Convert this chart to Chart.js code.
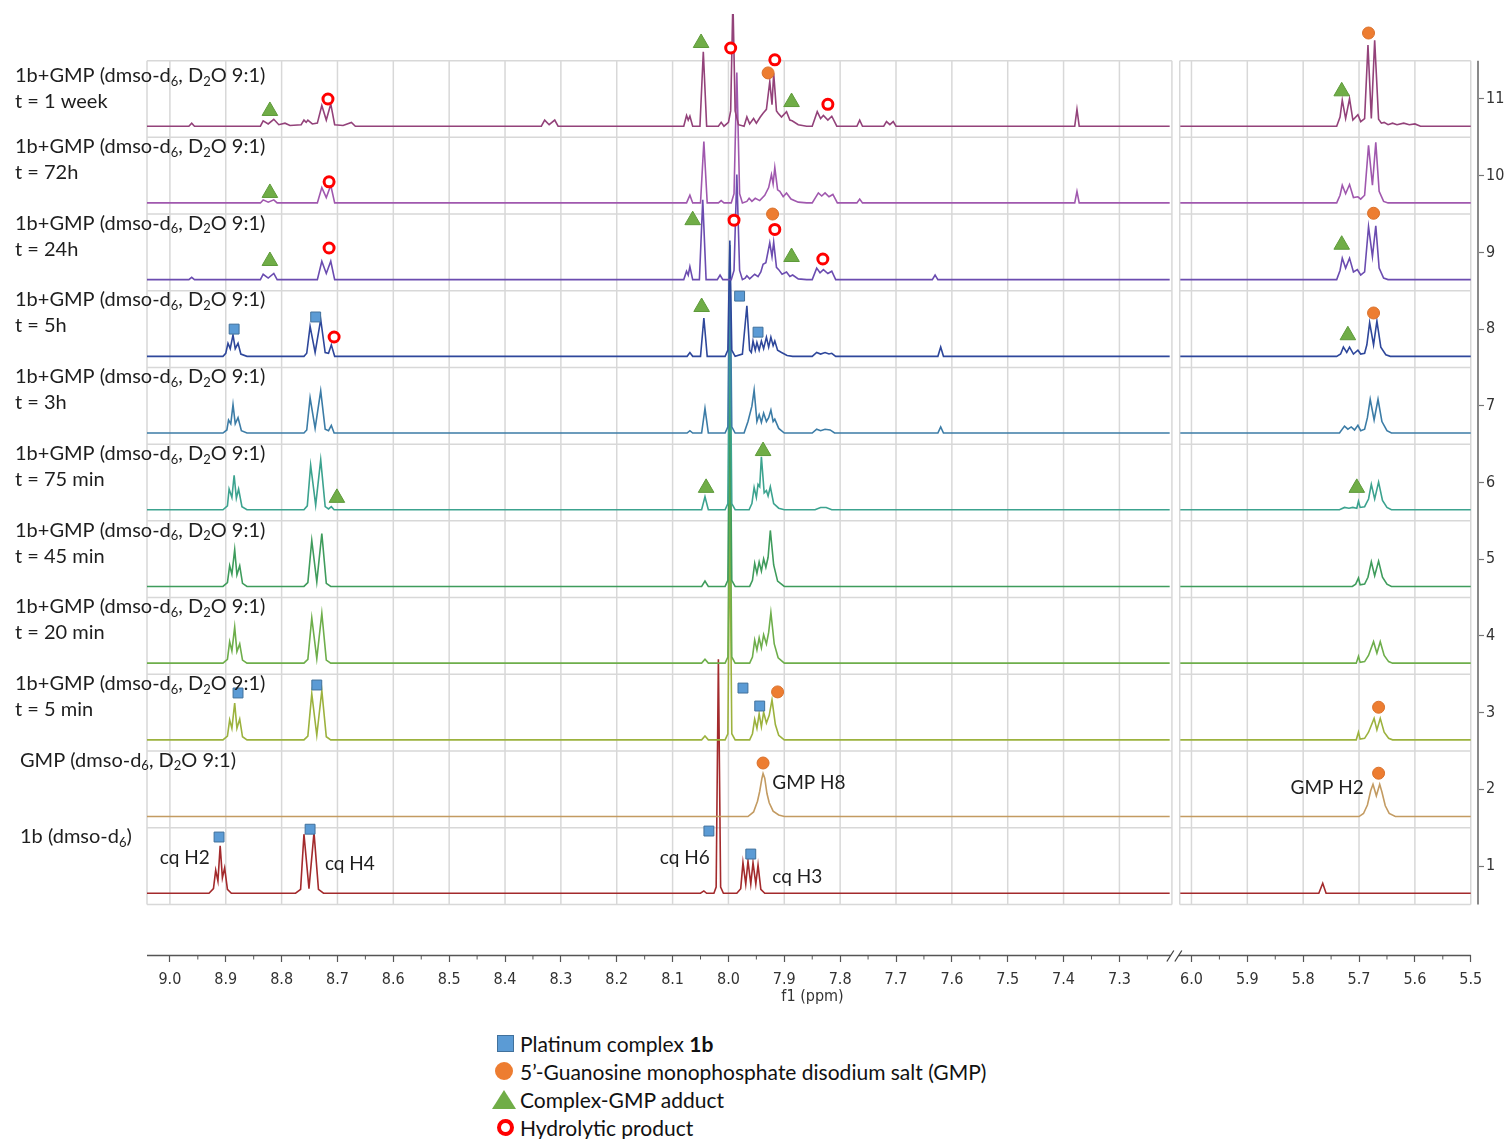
<!DOCTYPE html>
<html><head><meta charset="utf-8">
<script src="https://cdn.jsdelivr.net/npm/chart.js@4.4.1/dist/chart.umd.min.js"></script>
<style>
html,body{margin:0;padding:0;background:#fff;}
#wrap{position:relative;width:1508px;height:1139px;overflow:hidden;}
#c{position:absolute;left:0;top:0;}
#legend{position:absolute;left:490px;top:1029px;font-family:Lato,'Open Sans',sans-serif;font-size:21px;color:#111;}
.row{height:28px;display:flex;align-items:center;white-space:nowrap;}
.box{width:30px;height:28px;position:relative;flex:none;}
.sq{position:absolute;left:7px;top:6px;width:15px;height:15px;background:#5B9BD5;border:1px solid #41719C;}
.ci{position:absolute;left:5px;top:5px;width:18px;height:18px;border-radius:50%;background:#ED7D31;}
.tr{position:absolute;left:2px;top:5px;width:0;height:0;border-left:12px solid transparent;border-right:12px solid transparent;border-bottom:19px solid #70AD47;}
.ri{position:absolute;left:7px;top:6px;width:9px;height:9px;border-radius:50%;border:4px solid #FF0000;background:#fff;}
</style></head>
<body>
<div id="wrap">
<canvas id="c" width="1508" height="1010"></canvas>
<div id="legend">
 <div class="row"><div class="box"><div class="sq"></div></div><span>Platinum complex <b>1b</b></span></div>
 <div class="row"><div class="box"><div class="ci"></div></div><span>5’-Guanosine monophosphate disodium salt (GMP)</span></div>
 <div class="row"><div class="box"><div class="tr"></div></div><span>Complex-GMP adduct</span></div>
 <div class="row"><div class="box"><div class="ri"></div></div><span>Hydrolytic product</span></div>
</div>
</div>
<script>
// ---------------- data (ppm, intensity above own baseline) ----------------
const TICKS_LEFT = [9.0,8.9,8.8,8.7,8.6,8.5,8.4,8.3,8.2,8.1,8.0,7.9,7.8,7.7,7.6,7.5,7.4,7.3];
const TICKS_RIGHT = [6.0,5.9,5.8,5.7,5.6,5.5];
const Y_TICKS = [1,2,3,4,5,6,7,8,9,10,11];

const labelLine1 = [
 '1b (dmso-d_6)',
 'GMP (dmso-d_6, D_2O 9:1)',
 '1b+GMP (dmso-d_6, D_2O 9:1)','1b+GMP (dmso-d_6, D_2O 9:1)','1b+GMP (dmso-d_6, D_2O 9:1)',
 '1b+GMP (dmso-d_6, D_2O 9:1)','1b+GMP (dmso-d_6, D_2O 9:1)','1b+GMP (dmso-d_6, D_2O 9:1)',
 '1b+GMP (dmso-d_6, D_2O 9:1)','1b+GMP (dmso-d_6, D_2O 9:1)','1b+GMP (dmso-d_6, D_2O 9:1)'];
const labelLine2 = ['','','t = 5 min','t = 20 min','t = 45 min','t = 75 min','t = 3h','t = 5h','t = 24h','t = 72h','t = 1 week'];

const s1L = [9.041,0,
 8.930,0, 8.922,0.06, 8.918,0.30, 8.914,0.16, 8.910,0.62, 8.906,0.20, 8.902,0.33, 8.897,0.05, 8.890,0,
 8.775,0, 8.766,0.05, 8.760,0.77, 8.751,0.06, 8.742,0.79, 8.734,0.05, 8.725,0,
 8.050,0, 8.044,0.03, 8.039,0,
 8.026,0, 8.022,0.08, 8.018,3.05, 8.014,0.08, 8.009,0,
 7.985,0, 7.978,0.06, 7.974,0.40, 7.969,0.12, 7.965,0.42, 7.960,0.12, 7.956,0.40, 7.951,0.12, 7.947,0.37, 7.942,0.05, 7.935,0,
 7.210,0];
const s1R = [6.020,0, 5.772,0, 5.765,0.13, 5.759,0, 5.500,0];

const s2L = [9.041,0, 7.965,0, 7.955,0.06, 7.948,0.20, 7.944,0.33, 7.940,0.50, 7.938,0.56, 7.935,0.50, 7.931,0.30, 7.927,0.18, 7.920,0.07, 7.910,0.02, 7.900,0, 7.210,0];
const s2R = [6.020,0, 5.700,0, 5.692,0.04, 5.685,0.15, 5.679,0.34, 5.675,0.42, 5.669,0.27, 5.663,0.42, 5.659,0.32, 5.653,0.14, 5.646,0.04, 5.635,0, 5.500,0];

const s3L = [9.041,0,
 8.905,0, 8.897,0.05, 8.893,0.26, 8.889,0.15, 8.884,0.48, 8.880,0.15, 8.875,0.27, 8.870,0.04, 8.862,0,
 8.760,0, 8.753,0.05, 8.746,0.60, 8.737,0.06, 8.728,0.64, 8.720,0.04, 8.712,0,
 8.048,0, 8.042,0.05, 8.036,0,
 8.006,0, 8.001,0.08, 7.9975,2.87, 7.994,0.08, 7.988,0,
 7.962,0, 7.957,0.08, 7.953,0.27, 7.949,0.15, 7.945,0.34, 7.941,0.17, 7.937,0.36, 7.932,0.22, 7.927,0.32, 7.922,0.52, 7.916,0.20, 7.910,0.06, 7.900,0,
 7.210,0];
const s3R = [6.020,0, 5.705,0, 5.701,0.10, 5.698,0.01, 5.690,0.02, 5.683,0.10, 5.673,0.28, 5.668,0.13, 5.662,0.28, 5.655,0.10, 5.647,0.02, 5.640,0, 5.500,0];

const s4L = [9.041,0,
 8.905,0, 8.897,0.05, 8.893,0.28, 8.889,0.16, 8.884,0.47, 8.880,0.15, 8.875,0.25, 8.870,0.04, 8.862,0,
 8.760,0, 8.753,0.05, 8.746,0.59, 8.737,0.06, 8.728,0.65, 8.720,0.04, 8.712,0,
 8.048,0, 8.042,0.05, 8.036,0,
 8.006,0, 8.001,0.08, 7.9975,2.66, 7.994,0.08, 7.988,0,
 7.962,0, 7.957,0.08, 7.953,0.30, 7.949,0.17, 7.945,0.33, 7.941,0.20, 7.937,0.37, 7.932,0.25, 7.928,0.40, 7.924,0.66, 7.918,0.25, 7.911,0.07, 7.900,0,
 7.210,0];
const s4R = [6.020,0, 5.705,0, 5.701,0.09, 5.698,0.01, 5.690,0.02, 5.683,0.10, 5.674,0.28, 5.668,0.13, 5.662,0.28, 5.655,0.10, 5.647,0.02, 5.640,0, 5.500,0];

const s5L = [9.041,0,
 8.905,0, 8.897,0.05, 8.893,0.27, 8.889,0.16, 8.884,0.48, 8.880,0.15, 8.875,0.27, 8.870,0.04, 8.862,0,
 8.760,0, 8.753,0.05, 8.746,0.60, 8.737,0.06, 8.728,0.69, 8.720,0.04, 8.712,0,
 8.048,0, 8.042,0.07, 8.036,0,
 8.006,0, 8.001,0.08, 7.9975,2.69, 7.994,0.08, 7.988,0,
 7.962,0, 7.957,0.08, 7.953,0.30, 7.949,0.17, 7.945,0.32, 7.941,0.20, 7.937,0.36, 7.933,0.25, 7.929,0.38, 7.925,0.73, 7.919,0.28, 7.912,0.07, 7.900,0,
 7.210,0];
const s5R = [6.020,0, 5.712,0, 5.706,0.03, 5.701,0.11, 5.698,0.02, 5.690,0.03, 5.684,0.12, 5.678,0.32, 5.672,0.14, 5.665,0.33, 5.658,0.12, 5.650,0.03, 5.642,0, 5.500,0];

const s6L = [9.041,0,
 8.905,0, 8.897,0.05, 8.894,0.27, 8.889,0.16, 8.885,0.45, 8.881,0.15, 8.877,0.27, 8.871,0.04, 8.862,0,
 8.760,0, 8.754,0.05, 8.748,0.58, 8.739,0.06, 8.730,0.65, 8.722,0.04, 8.716,0.01, 8.711,0.04, 8.706,0,
 8.048,0, 8.042,0.17, 8.036,0,
 8.006,0, 8.001,0.08, 7.9975,2.74, 7.994,0.08, 7.988,0,
 7.963,0, 7.958,0.08, 7.954,0.29, 7.950,0.16, 7.947,0.33, 7.944,0.30, 7.941,0.69, 7.936,0.22, 7.932,0.25, 7.929,0.18, 7.925,0.30, 7.919,0.08, 7.910,0.02, 7.900,0,
 7.845,0, 7.835,0.03, 7.825,0.03, 7.815,0,
 7.210,0];
const s6R = [6.020,0, 5.735,0, 5.726,0.03, 5.718,0.02, 5.711,0.03, 5.704,0.02, 5.701,0.11, 5.698,0.03, 5.690,0.04, 5.683,0.14, 5.678,0.33, 5.672,0.14, 5.665,0.36, 5.658,0.12, 5.650,0.03, 5.642,0, 5.500,0];

const s7L = [9.041,0,
 8.905,0, 8.898,0.04, 8.895,0.17, 8.891,0.12, 8.887,0.37, 8.883,0.12, 8.878,0.20, 8.872,0.03, 8.862,0,
 8.760,0, 8.755,0.04, 8.749,0.46, 8.740,0.06, 8.730,0.55, 8.722,0.05, 8.716,0.03, 8.711,0.10, 8.706,0,
 8.074,0, 8.069,0.03, 8.064,0,
 8.048,0, 8.042,0.32, 8.036,0,
 8.006,0, 8.001,0.08, 7.9975,2.45, 7.994,0.08, 7.988,0,
 7.972,0, 7.965,0.15, 7.958,0.35, 7.954,0.56, 7.949,0.15, 7.945,0.24, 7.941,0.14, 7.937,0.26, 7.932,0.15, 7.928,0.20, 7.924,0.30, 7.920,0.15, 7.917,0.18, 7.910,0.06, 7.900,0,
 7.850,0, 7.842,0.05, 7.835,0.03, 7.827,0.05, 7.818,0.04, 7.810,0,
 7.625,0, 7.620,0.08, 7.615,0,
 7.210,0];
const s7R = [6.020,0, 5.735,0, 5.726,0.09, 5.720,0.05, 5.714,0.08, 5.708,0.04, 5.702,0.10, 5.697,0.03, 5.690,0.05, 5.685,0.20, 5.680,0.44, 5.673,0.17, 5.666,0.44, 5.659,0.15, 5.650,0.03, 5.642,0, 5.500,0];

const s8L = [9.041,0,
 8.905,0, 8.900,0.04, 8.896,0.17, 8.892,0.10, 8.887,0.28, 8.883,0.10, 8.878,0.17, 8.873,0.03, 8.862,0,
 8.760,0, 8.755,0.04, 8.749,0.39, 8.740,0.05, 8.730,0.48, 8.722,0.05, 8.716,0.04, 8.711,0.15, 8.705,0,
 8.074,0, 8.069,0.05, 8.064,0,
 8.050,0, 8.044,0.50, 8.038,0,
 8.006,0, 8.001,0.08, 7.9975,1.51, 7.994,0.08, 7.988,0,
 7.975,0.03, 7.967,0.66, 7.962,0.08, 7.959,0.05, 7.956,0.20, 7.952,0.08, 7.949,0.18, 7.945,0.08, 7.941,0.20, 7.937,0.10, 7.932,0.25, 7.928,0.12, 7.924,0.25, 7.920,0.14, 7.917,0.20, 7.912,0.08, 7.905,0.05, 7.895,0.01, 7.885,0,
 7.850,0, 7.842,0.05, 7.835,0.03, 7.827,0.05, 7.820,0.03, 7.815,0.04, 7.808,0,
 7.625,0, 7.620,0.12, 7.615,0,
 7.210,0];
const s8R = [6.020,0, 5.740,0, 5.733,0.03, 5.728,0.12, 5.722,0.05, 5.717,0.12, 5.710,0.03, 5.702,0.08, 5.697,0.03, 5.690,0.04, 5.686,0.15, 5.681,0.44, 5.674,0.15, 5.668,0.46, 5.661,0.12, 5.652,0.02, 5.644,0, 5.500,0];

const s9L = [9.041,0,
 8.966,0, 8.961,0.03, 8.956,0,
 8.838,0, 8.833,0.07, 8.824,0.02, 8.814,0.08, 8.808,0,
 8.736,0, 8.728,0.24, 8.720,0.08, 8.712,0.24, 8.705,0,
 8.080,0, 8.075,0.11, 8.072,0.06, 8.069,0.17, 8.064,0,
 8.052,0, 8.046,1.04, 8.040,0,
 8.020,0, 8.015,0.06, 8.010,0,
 7.995,0, 7.990,0.12, 7.985,1.37, 7.980,0.12, 7.975,0,
 7.970,0.02, 7.967,0.05, 7.962,0.01, 7.953,0.07, 7.947,0.04, 7.942,0.10, 7.938,0.20, 7.933,0.22, 7.926,0.48, 7.922,0.30, 7.919,0.49, 7.914,0.16, 7.910,0.13, 7.904,0.07, 7.896,0.10, 7.890,0.04, 7.885,0.06, 7.875,0.01, 7.860,0,
 7.850,0, 7.842,0.15, 7.836,0.09, 7.830,0.13, 7.822,0.08, 7.815,0.11, 7.808,0,
 7.635,0, 7.630,0.06, 7.625,0,
 7.210,0];
const s9R = [6.020,0, 5.740,0, 5.734,0.12, 5.730,0.28, 5.724,0.15, 5.717,0.28, 5.710,0.10, 5.703,0.13, 5.697,0.06, 5.690,0.10, 5.683,0.69, 5.676,0.30, 5.670,0.70, 5.664,0.15, 5.656,0.02, 5.648,0, 5.500,0];

const s10L = [9.041,0,
 8.838,0, 8.833,0.04, 8.824,0.01, 8.814,0.04, 8.808,0,
 8.736,0, 8.728,0.20, 8.720,0.07, 8.712,0.23, 8.705,0,
 8.075,0, 8.069,0.10, 8.064,0,
 8.050,0, 8.044,0.80, 8.038,0,
 8.018,0, 8.013,0.03, 8.008,0,
 7.995,0, 7.990,0.12, 7.985,1.70, 7.980,0.12, 7.975,0,
 7.967,0.02, 7.963,0.06, 7.958,0.02, 7.952,0.06, 7.944,0.03, 7.935,0.10, 7.928,0.20, 7.923,0.37, 7.920,0.25, 7.917,0.46, 7.912,0.17, 7.908,0.15, 7.902,0.08, 7.896,0.13, 7.888,0.05, 7.875,0.01, 7.860,0,
 7.850,0, 7.839,0.13, 7.833,0.09, 7.827,0.13, 7.820,0.08, 7.813,0.11, 7.805,0,
 7.770,0, 7.765,0.05, 7.760,0,
 7.380,0, 7.376,0.15, 7.372,0,
 7.210,0];
const s10R = [6.020,0, 5.740,0, 5.734,0.10, 5.730,0.23, 5.724,0.12, 5.717,0.24, 5.710,0.07, 5.702,0.08, 5.697,0.05, 5.690,0.10, 5.683,0.75, 5.676,0.23, 5.670,0.79, 5.664,0.15, 5.656,0.02, 5.648,0, 5.500,0];

const s11L = [9.041,0,
 8.966,0, 8.961,0.04, 8.956,0,
 8.838,0, 8.833,0.07, 8.824,0.03, 8.814,0.09, 8.805,0.02, 8.794,0.04, 8.785,0.01, 8.765,0.02, 8.760,0.08, 8.756,0.05, 8.753,0.08, 8.745,0.03, 8.736,0.04, 8.728,0.27, 8.720,0.08, 8.712,0.29, 8.705,0.02, 8.690,0.01, 8.675,0.05, 8.668,0,
 8.335,0, 8.329,0.08, 8.321,0.02, 8.311,0.08, 8.305,0,
 8.080,0, 8.075,0.14, 8.072,0.08, 8.069,0.13, 8.064,0,
 8.051,0, 8.045,0.97, 8.039,0,
 8.018,0, 8.013,0.05, 8.008,0,
 8.000,0.05, 7.996,0.20, 7.992,1.65, 7.988,0.20, 7.982,0.02,
 7.972,0, 7.967,0.12, 7.962,0.03, 7.955,0.10, 7.950,0.04, 7.943,0.12, 7.938,0.17, 7.932,0.22, 7.926,0.58, 7.922,0.28, 7.919,0.69, 7.914,0.20, 7.911,0.17, 7.905,0.12, 7.896,0.19, 7.890,0.08, 7.886,0.07, 7.875,0.02, 7.860,0,
 7.850,0, 7.841,0.19, 7.835,0.10, 7.830,0.14, 7.822,0.08, 7.815,0.13, 7.806,0,
 7.770,0, 7.765,0.08, 7.760,0,
 7.722,0, 7.717,0.06, 7.711,0.02, 7.705,0.06, 7.700,0,
 7.380,0, 7.376,0.22, 7.372,0,
 7.210,0];
const s11R = [6.020,0, 5.740,0, 5.734,0.12, 5.730,0.34, 5.724,0.10, 5.717,0.36, 5.711,0.08, 5.702,0.15, 5.697,0.06, 5.690,0.10, 5.684,1.06, 5.678,0.10, 5.672,1.12, 5.665,0.09, 5.660,0.04, 5.655,0.05, 5.648,0.02, 5.640,0.04, 5.632,0.02, 5.620,0.04, 5.610,0.02, 5.600,0.03, 5.590,0, 5.500,0];

const spectraLeft  = [s1L,s2L,s3L,s4L,s5L,s6L,s7L,s8L,s9L,s10L,s11L];
const spectraRight = [s1R,s2R,s3R,s4R,s5R,s6R,s7R,s8R,s9R,s10R,s11R];

// markers: ppm, stack value
const markSquare = [8.885,8.00, 8.739,8.158, 7.980,8.43, 7.947,7.96,
  8.878,3.256, 8.737,3.36, 7.974,3.32, 7.944,3.086,
  8.912,1.378, 8.749,1.48, 8.035,1.456, 7.960,1.156];
const markGMP = [7.929,11.34, 5.683,11.86, 7.921,9.50, 5.674,9.51, 5.674,8.21,
  7.912,3.27, 5.665,3.07, 7.938,2.343, 5.665,2.21];
const markAdduct = [8.821,10.844, 8.049,11.73, 7.887,10.96, 5.731,11.10,
  8.821,9.775,
  8.821,8.888, 8.064,9.42, 7.887,8.94, 5.731,9.10,
  8.048,8.288, 5.720,7.92,
  8.701,5.80, 8.040,5.93, 7.938,6.41, 5.704,5.93];
const markHydro = [8.717,11.0, 7.996,11.665, 7.917,11.51, 7.822,10.93,
  8.715,9.92,
  8.715,9.057, 7.990,9.42, 7.917,9.30, 7.831,8.914,
  8.706,7.897];

const annotations = [
  ['cq H2', 9.018, 1.104], ['cq H4', 8.7225, 1.026], ['cq H6', 8.123, 1.104],
  ['cq H3', 7.9215, 0.857], ['GMP H8', 7.9215, 2.082], ['GMP H2', 5.8226, 2.017]];

// ---------------- styling / layout ----------------
const COLORS = ['#A32A2C','#C39B62','#9CB23E','#6EAE4B','#3F9C5C','#3CA38F','#3C7CA6','#2E479B','#6B4CB0','#A058AE','#93427A'];
const SHIFT = 1.171;            // right-panel offset on the continuous axis
const V_MAX = 9.041, V_MIN = 6.658;
const PANELS = [[9.041, 7.206], [6.021 + SHIFT, 5.5 + SHIFT]];
const BASE_OFF = 0.355;
const vx = p => (p < 7 ? p + SHIFT : p);
const FAM = "Lato, 'Open Sans', sans-serif";
const AXFONT = "'Liberation Sans Narrow','DejaVu Sans Condensed',sans-serif";

function pts(flat, shift, base) {
  const o = [];
  for (let i = 0; i < flat.length; i += 2) o.push({x: flat[i] + shift, y: flat[i + 1] + base});
  return o;
}
function mpts(flat) {
  const o = [];
  for (let i = 0; i < flat.length; i += 2) o.push({x: vx(flat[i]), y: flat[i + 1]});
  return o;
}

const datasets = [];
datasets.push({data: mpts(markHydro), showLine: false, pointStyle: 'circle', pointRadius: 5, pointBorderWidth: 3, pointBorderColor: '#FF0000', pointBackgroundColor: '#FFFFFF', order: 0});
datasets.push({data: mpts(markAdduct), showLine: false, pointStyle: 'triangle', pointRadius: 9, pointBorderWidth: 1, pointBorderColor: '#5E9A3A', pointBackgroundColor: '#70AD47', order: 0});
datasets.push({data: mpts(markGMP), showLine: false, pointStyle: 'circle', pointRadius: 6, pointBorderWidth: 1, pointBorderColor: '#D9702A', pointBackgroundColor: '#ED7D31', order: 0});
datasets.push({data: mpts(markSquare), showLine: false, pointStyle: 'rect', pointRadius: 7, pointBorderWidth: 1, pointBorderColor: '#41719C', pointBackgroundColor: '#5B9BD5', order: 0});
for (let i = 0; i < 11; i++) {
  const base = (i + 1) - BASE_OFF;
  const common = {showLine: true, pointRadius: 0, borderColor: COLORS[i], borderWidth: 1.6, tension: 0, order: 12 - i};
  datasets.push(Object.assign({data: pts(spectraLeft[i], 0, base)}, common));
  datasets.push(Object.assign({data: pts(spectraRight[i], SHIFT, base)}, common));
}

function drawRich(ctx, str, x, y, size, color) {
  ctx.fillStyle = color;
  let cx = x;
  const parts = str.split(/(_.)/);
  for (const p of parts) {
    if (!p) continue;
    if (p[0] === '_' && p.length === 2) {
      ctx.font = Math.round(size * 0.66) + 'px ' + FAM;
      ctx.fillText(p[1], cx, y + size * 0.3);
      cx += ctx.measureText(p[1]).width;
    } else {
      ctx.font = size + 'px ' + FAM;
      ctx.fillText(p, cx, y);
      cx += ctx.measureText(p).width;
    }
  }
}

const deco = {
  id: 'deco',
  beforeDatasetsDraw(chart) {
    const {ctx, scales: {x, y}} = chart;
    ctx.save();
    ctx.strokeStyle = '#d8d8d8';
    ctx.lineWidth = 1.5;
    const yTop = y.getPixelForValue(11.5), yBot = y.getPixelForValue(0.5);
    PANELS.forEach(([a, b], pi) => {
      const xa = x.getPixelForValue(a), xb = x.getPixelForValue(b);
      ctx.beginPath();
      for (let k = 0; k <= 11; k++) {
        const yy = y.getPixelForValue(k + 0.5);
        ctx.moveTo(xa, yy); ctx.lineTo(xb, yy);
      }
      const vs = [a, b].concat(pi === 0 ? TICKS_LEFT : TICKS_RIGHT.map(v => v + SHIFT));
      vs.forEach(v => { const xx = x.getPixelForValue(v); ctx.moveTo(xx, yTop); ctx.lineTo(xx, yBot); });
      ctx.stroke();
    });
    ctx.restore();
  },
  afterDatasetsDraw(chart) {
    const {ctx, chartArea, scales: {x, y}} = chart;
    ctx.save();
    // right stack axis line
    ctx.strokeStyle = '#8a8a8a'; ctx.lineWidth = 2;
    ctx.beginPath();
    ctx.moveTo(chartArea.right, y.getPixelForValue(11.5));
    ctx.lineTo(chartArea.right, y.getPixelForValue(0.5));
    ctx.stroke();
    // bottom ppm axis line
    const ay = chartArea.bottom + 0.5;
    ctx.strokeStyle = '#555'; ctx.lineWidth = 1.5;
    ctx.beginPath();
    ctx.moveTo(x.getPixelForValue(V_MAX), ay);
    ctx.lineTo(x.getPixelForValue(5.5 + SHIFT), ay);
    ctx.stroke();
    // minor ticks
    ctx.lineWidth = 1;
    ctx.beginPath();
    TICKS_LEFT.forEach(t => { const xx = x.getPixelForValue(t - 0.05); ctx.moveTo(xx, ay); ctx.lineTo(xx, ay + 4); });
    TICKS_RIGHT.slice(0, -1).forEach(t => { const xx = x.getPixelForValue(t - 0.05 + SHIFT); ctx.moveTo(xx, ay); ctx.lineTo(xx, ay + 4); });
    ctx.stroke();
    // axis break marks
    const bx = (x.getPixelForValue(PANELS[0][1]) + x.getPixelForValue(PANELS[1][0])) / 2;
    ctx.fillStyle = '#fff';
    ctx.fillRect(bx - 5, ay - 2, 8, 4);
    ctx.strokeStyle = '#444'; ctx.lineWidth = 1.3;
    ctx.beginPath();
    ctx.moveTo(bx - 9, ay + 6); ctx.lineTo(bx - 2, ay - 5);
    ctx.moveTo(bx - 1, ay + 6); ctx.lineTo(bx + 6, ay - 5);
    ctx.stroke();
    // spectrum labels
    ctx.textBaseline = 'middle';
    for (let i = 0; i < 11; i++) {
      const n = i + 1;
      const off = n === 11 ? 0.30 : 0.38;
      const yy = y.getPixelForValue(n + off);
      const lx = n <= 2 ? 20 : 15;
      drawRich(ctx, labelLine1[i], lx, yy, 20, '#1e1e1e');
      if (labelLine2[i]) drawRich(ctx, labelLine2[i], lx, yy + 26, 20, '#1e1e1e');
    }
    // peak annotations
    annotations.forEach(([t, p, v]) => {
      drawRich(ctx, t, x.getPixelForValue(vx(p)), y.getPixelForValue(v), 19, '#1e1e1e');
    });
    ctx.restore();
  }
};

new Chart(document.getElementById('c'), {
  type: 'scatter',
  data: {datasets},
  options: {
    responsive: false,
    devicePixelRatio: 1,
    animation: false,
    events: [],
    layout: {padding: {left: 147, top: 14, right: 0, bottom: 0}},
    plugins: {legend: {display: false}, tooltip: {enabled: false}},
    scales: {
      x: {
        type: 'linear', reverse: true, min: V_MIN, max: V_MAX,
        afterFit: s => { s.height = 55; },
        afterBuildTicks: s => { s.ticks = TICKS_LEFT.concat(TICKS_RIGHT.map(v => v + SHIFT)).map(v => ({value: v})); },
        border: {display: false},
        grid: {drawOnChartArea: false, drawTicks: true, tickLength: 7, tickColor: '#555', tickWidth: 1.2},
        ticks: {autoSkip: false, maxRotation: 0, padding: 8, color: '#333',
          font: {family: AXFONT, size: 16},
          callback: v => (v > 7.19 ? v : v - SHIFT).toFixed(1)},
        title: {display: true, text: 'f1 (ppm)', color: '#333', font: {family: AXFONT, size: 16}, padding: {top: 0, bottom: 4}}
      },
      y: {
        type: 'linear', position: 'right', min: -0.160, max: 12.108,
        afterFit: s => { s.width = 30; },
        afterBuildTicks: s => { s.ticks = Y_TICKS.map(v => ({value: v})); },
        border: {display: false},
        grid: {drawOnChartArea: false, drawTicks: true, tickLength: 6, tickColor: '#777', tickWidth: 1.2},
        ticks: {padding: 2, color: '#333', font: {family: AXFONT, size: 16}, callback: v => String(v)}
      }
    }
  },
  plugins: [deco]
});
</script>
</body></html>
